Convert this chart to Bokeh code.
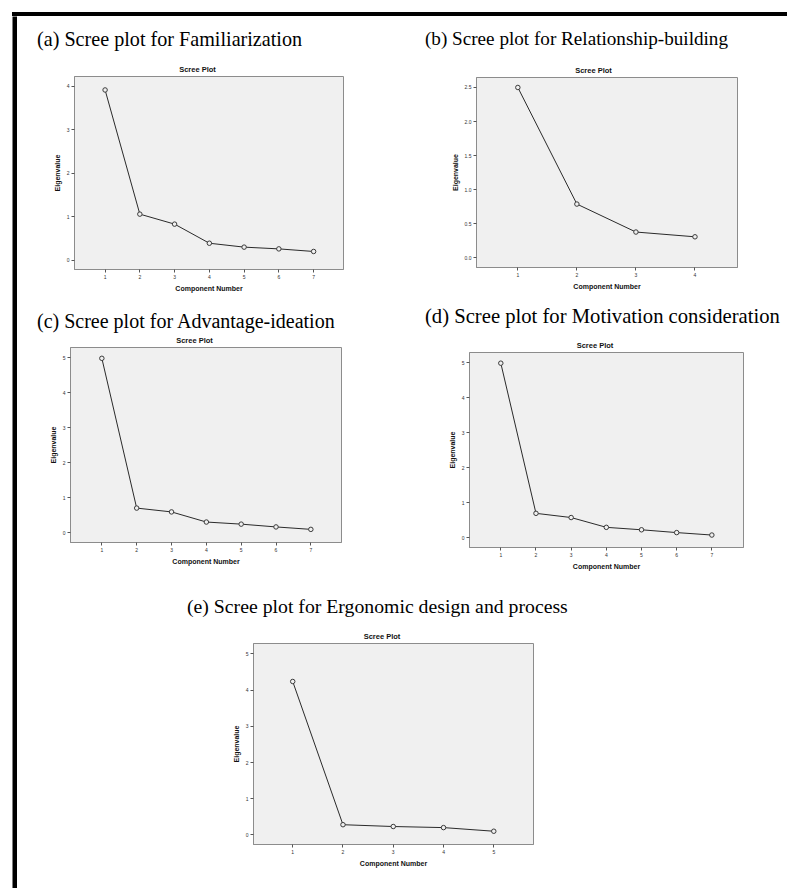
from bokeh.plotting import figure
from bokeh.models import Range1d, FixedTicker, Spacer, NumeralTickFormatter, Div
from bokeh.layouts import column, row
from bokeh.embed import file_html
from bokeh.resources import INLINE

# ---------------- data ----------------
panel_titles = [
    "(a) Scree plot for Familiarization",
    "(b) Scree plot for Relationship-building",
    "(c) Scree plot for Advantage-ideation",
    "(d) Scree plot for Motivation consideration",
    "(e) Scree plot for Ergonomic design and process",
]
chart_title = "Scree Plot"
x_label = "Component Number"
y_label = "Eigenvalue"

comp_a = [1, 2, 3, 4, 5, 6, 7]
eig_a = [3.92, 1.06, 0.83, 0.39, 0.30, 0.26, 0.20]

comp_b = [1, 2, 3, 4]
eig_b = [2.50, 0.79, 0.38, 0.31]

comp_c = [1, 2, 3, 4, 5, 6, 7]
eig_c = [4.99, 0.70, 0.59, 0.30, 0.24, 0.16, 0.09]

comp_d = [1, 2, 3, 4, 5, 6, 7]
eig_d = [4.99, 0.70, 0.58, 0.30, 0.23, 0.15, 0.08]

comp_e = [1, 2, 3, 4, 5]
eig_e = [4.24, 0.28, 0.23, 0.20, 0.10]

yticks_a = [0, 1, 2, 3, 4]
yticks_b = [0.0, 0.5, 1.0, 1.5, 2.0, 2.5]
yticks_cde = [0, 1, 2, 3, 4, 5]

SANS = "Liberation Sans"
SERIF = "Liberation Serif"
GAP = 2  # chart border above its frame


def panel(ptitle, fsize, comps, vals, yticks, yfmt, w, h, bl, br, bt, bb, xr, yr,
          title_dx, title_base, sub_dx):
    fw = w - bl - br
    th = bt - GAP
    # ---- heading strip (panel caption + chart title) as HTML ----
    big_left = bl + title_dx
    base_off = (20 - fsize * 1.107) / 2 + fsize * 0.891
    big_top = title_base - base_off
    sub_center = bl + fw / 2 + sub_dx
    sub_top = bt - 3 - 6.6
    html = (
        f'<div style="position:relative;width:{w}px;height:{th}px;margin:0;padding:0;">'
        f'<div style="position:absolute;left:{big_left}px;top:{big_top:.2f}px;margin:0;padding:0;'
        f"font-family:'{SERIF}';font-size:{fsize}px;line-height:20px;white-space:nowrap;"
        f'color:#000000;">{ptitle}</div>'
        f'<div style="position:absolute;left:{sub_center - 50}px;top:{sub_top}px;width:100px;'
        f"margin:0;padding:0;text-align:center;font-family:'{SANS}';font-size:7.5px;"
        f'font-weight:bold;line-height:8px;white-space:nowrap;color:#111111;">{chart_title}</div>'
        f'</div>'
    )
    t = Div(text=html, width=w, height=th, margin=0)

    # ---- the scree chart ----
    p = figure(width=w, height=h - th, title=None, output_backend="svg", toolbar_location=None,
               x_range=Range1d(*xr), y_range=Range1d(*yr),
               min_border_left=bl, min_border_right=br, min_border_top=GAP, min_border_bottom=bb,
               background_fill_color="#f0f0f0", border_fill_color="white",
               outline_line_color="#8c8c8c", outline_line_width=1)
    p.line(comps, vals, line_color="#2a2a2a", line_width=1)
    p.scatter(comps, vals, marker="circle", size=4.5, fill_color="#f0f0f0",
              line_color="#3a3a3a", line_width=1)

    p.xgrid.visible = False
    p.ygrid.visible = False
    p.xaxis.ticker = FixedTicker(ticks=comps)
    p.yaxis.ticker = FixedTicker(ticks=yticks)
    if yfmt:
        p.yaxis.formatter = NumeralTickFormatter(format=yfmt)
    p.xaxis.axis_label = x_label
    p.yaxis.axis_label = y_label
    for ax in (p.xaxis, p.yaxis):
        ax.axis_line_color = "#8c8c8c"
        ax.axis_line_width = 1
        ax.major_tick_in = 0
        ax.major_tick_out = 3
        ax.major_tick_line_color = "#555555"
        ax.minor_tick_line_color = None
        ax.major_label_text_font = SANS
        ax.major_label_text_font_size = "5px"
        ax.major_label_text_color = "#333333"
        ax.major_label_standoff = 2
        ax.axis_label_text_font = SANS
        ax.axis_label_text_font_size = "7px"
        ax.axis_label_text_font_style = "bold"
        ax.axis_label_text_color = "#111111"
        ax.axis_label_standoff = 3
    return column(t, p)


pa = panel(panel_titles[0], 20.15, comp_a, eig_a, yticks_a, None, 383, 284, 57, 57, 60, 31,
           (0.12, 7.86), (-0.215, 4.23), -37, 29.7, -11)
pb = panel(panel_titles[1], 19.15, comp_b, eig_b, yticks_b, "0.0", 381, 284, 76, 44, 61, 33,
           (0.30, 4.72), (-0.14, 2.646), -51, 29.7, -13)
pc = panel(panel_titles[2], 20.0, comp_c, eig_c, yticks_cde, None, 383, 280, 53, 59, 47, 38,
           (0.10, 7.88), (-0.286, 5.30), -33, 28.2, -11)
pd = panel(panel_titles[3], 20.65, comp_d, eig_d, yticks_cde, None, 381, 280, 69, 38, 52, 33,
           (0.11, 7.90), (-0.276, 5.295), -44, 23.2, -11)
pe = panel(panel_titles[4], 19.75, comp_e, eig_e, yticks_cde, None, 480, 295, 100, 100, 63, 31,
           (0.22, 5.79), (-0.267, 5.29), -66, 32.4, -11)

top_bar = Div(text="", width=775, height=4, margin=0,
              styles={"background-color": "black", "overflow": "hidden"})
left_bar = figure(width=5, height=872, title=None, output_backend="svg", toolbar_location=None,
                  x_axis_type=None, y_axis_type=None, min_border=0,
                  background_fill_color="black", border_fill_color="black",
                  outline_line_color=None)
left_bar.xgrid.visible = False
left_bar.ygrid.visible = False

content = column(row(pa, pb), row(pc, pd), row(Spacer(width=136, height=295), pe))
inner = column(top_bar, row(left_bar, content))
page = column(Spacer(width=10, height=12), row(Spacer(width=12, height=10), inner))

open("out.html", "w").write(file_html(page, INLINE))
